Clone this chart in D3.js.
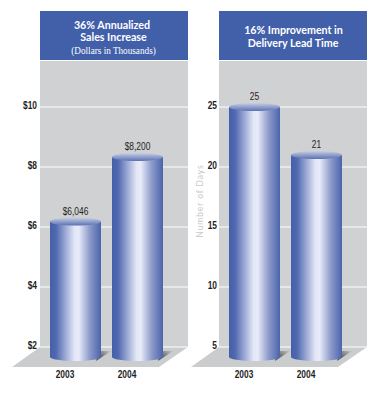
<!DOCTYPE html>
<html><head><meta charset="utf-8">
<script src="https://cdnjs.cloudflare.com/ajax/libs/d3/7.8.5/d3.min.js"></script>
<style>html,body{margin:0;padding:0;background:#fff}svg{display:block}</style></head>
<body><div id="c"></div>
<script>
const years = ["2003", "2004"];
const salesValues = [6.046, 8.2];
const salesLabels = ["$6,046", "$8,200"];
const salesTicks = [2, 4, 6, 8, 10];
const leadValues = [25, 21];
const leadLabels = ["25", "21"];
const leadTicks = [5, 10, 15, 20, 25];

const W = 378, H = 401;
const svg = d3.select("#c").append("svg").attr("width", W).attr("height", H);
const defs = svg.append("defs");
const grad = defs.append("linearGradient").attr("id", "cyl");
[[0,"#4460a9"],[0.12,"#5069b0"],[0.32,"#a3afd8"],[0.48,"#e2e6f6"],[0.56,"#e8ebf8"],[0.78,"#8d9aca"],[1,"#4a64ab"]]
  .forEach(d => grad.append("stop").attr("offset", d[0]).attr("stop-color", d[1]));
const topG = defs.append("linearGradient").attr("id", "cap").attr("x1",0).attr("x2",0).attr("y1",0).attr("y2",1);
topG.append("stop").attr("offset",0).attr("stop-color","#c8cee4");
topG.append("stop").attr("offset",1).attr("stop-color","#5a71b3");
const sh = defs.append("linearGradient").attr("id", "shadow").attr("x1",0).attr("x2",1).attr("y1",1).attr("y2",0);
sh.append("stop").attr("offset",0.25).attr("stop-color","#525254");
sh.append("stop").attr("offset",1).attr("stop-color","#c4c5c7");

const TICKFONT = "'Liberation Sans', sans-serif";

// text squeezed horizontally around its anchor, to mimic the reference's condensed face
function label(g, px, py, str, opt) {
  return g.append("text")
    .attr("transform", `translate(${px},${py}) scale(${opt.sx},1)`)
    .attr("text-anchor", opt.anchor)
    .attr("font-family", opt.family).attr("font-size", opt.size).attr("font-weight", opt.weight)
    .attr("fill", opt.fill).text(str);
}

function panel(o) {
  const g = svg.append("g");
  const y = d3.scaleLinear().domain(o.domain).range([347, 107]);
  const x = d3.scaleBand().domain(years).range([o.x0 + 10, o.x0 + 123]).paddingInner(11 / 62);
  const bw = x.bandwidth();
  const x1 = o.x0 + 148;

  g.append("rect").attr("x", o.x0).attr("y", 11).attr("width", 148).attr("height", 49).attr("fill", "#4260aa");
  g.append("rect").attr("x", o.x0).attr("y", 61).attr("width", 148).attr("height", 286).attr("fill", "#d0d1d3");
  g.append("path").attr("d", d3.line()([[o.x0,347],[x1,347],[x1-29,367],[o.x0-28,367]])).attr("fill", "#cbcccd");

  o.ticks.forEach(t => {
    g.append("line").attr("x1", o.x0).attr("x2", x1).attr("y1", y(t)).attr("y2", y(t)).attr("stroke", "#fff").attr("stroke-width", 1);
    label(g, o.x0 - o.tickGap, y(t) + 1.5, o.fmt(t), {sx: 0.8, anchor: "end", family: TICKFONT, size: 10.5, weight: 700, fill: "#1f1f1f"});
  });

  o.values.forEach((v, i) => {
    const bx = x(years[i]), rx = bw / 2, cx = bx + rx, ry = 4;
    const cy = y(v) - o.capOffset, base = 357;
    g.append("path").attr("d", d3.line()([[bx+bw-5,base+4],[bx+bw+10,base-6],[bx+bw-2,base-6]])).attr("fill", "url(#shadow)");
    g.append("path").attr("d", `M${bx},${cy}V${base}A${rx},${ry} 0 0 0 ${bx+bw},${base}V${cy}Z`).attr("fill", "url(#cyl)");
    g.append("ellipse").attr("cx", cx).attr("cy", cy).attr("rx", rx).attr("ry", ry).attr("fill", "url(#cap)");
    label(g, cx, cy - 7, o.labels[i], {sx: 0.8, anchor: "middle", family: TICKFONT, size: 10.5, weight: 400, fill: "#1f1f1f"});
    label(g, cx - 10.5, 378, years[i], {sx: 0.8, anchor: "middle", family: TICKFONT, size: 10.5, weight: 700, fill: "#1f1f1f"});
  });

  o.title.forEach(t => {
    label(g, o.x0 + t.dx, t.y, t.text, {
      sx: t.serif ? 0.92 : 0.93, anchor: "middle",
      family: t.serif ? "'Liberation Serif', serif" : "Lato, sans-serif",
      size: t.size, weight: t.serif ? 400 : 700, fill: "#fff"
    });
  });
}

panel({
  x0: 40, domain: [2, 10], values: salesValues, labels: salesLabels, ticks: salesTicks, capOffset: 4, tickGap: 3,
  fmt: d => "$" + d,
  title: [
    {text: "36% Annualized", y: 28.5, size: 11.5, dx: 72},
    {text: "Sales Increase", y: 41, size: 11.5, dx: 73.5},
    {text: "(Dollars in Thousands)", y: 54, size: 10, dx: 73.5, serif: true}
  ]
});
panel({
  x0: 219, domain: [5, 25], values: leadValues, labels: leadLabels, ticks: leadTicks, capOffset: 0, tickGap: 2,
  fmt: d => "" + d,
  title: [
    {text: "16% Improvement in", y: 34, size: 11.5, dx: 74.5},
    {text: "Delivery Lead Time", y: 47, size: 11.5, dx: 74}
  ]
});
svg.append("text").attr("transform", "translate(203,201) rotate(-90)").attr("text-anchor", "middle")
  .attr("font-family", "Lato, sans-serif").attr("font-size", 8.5).attr("letter-spacing", 0.9).attr("fill", "#c8c9cb").text("Number of Days");
</script></body></html>
